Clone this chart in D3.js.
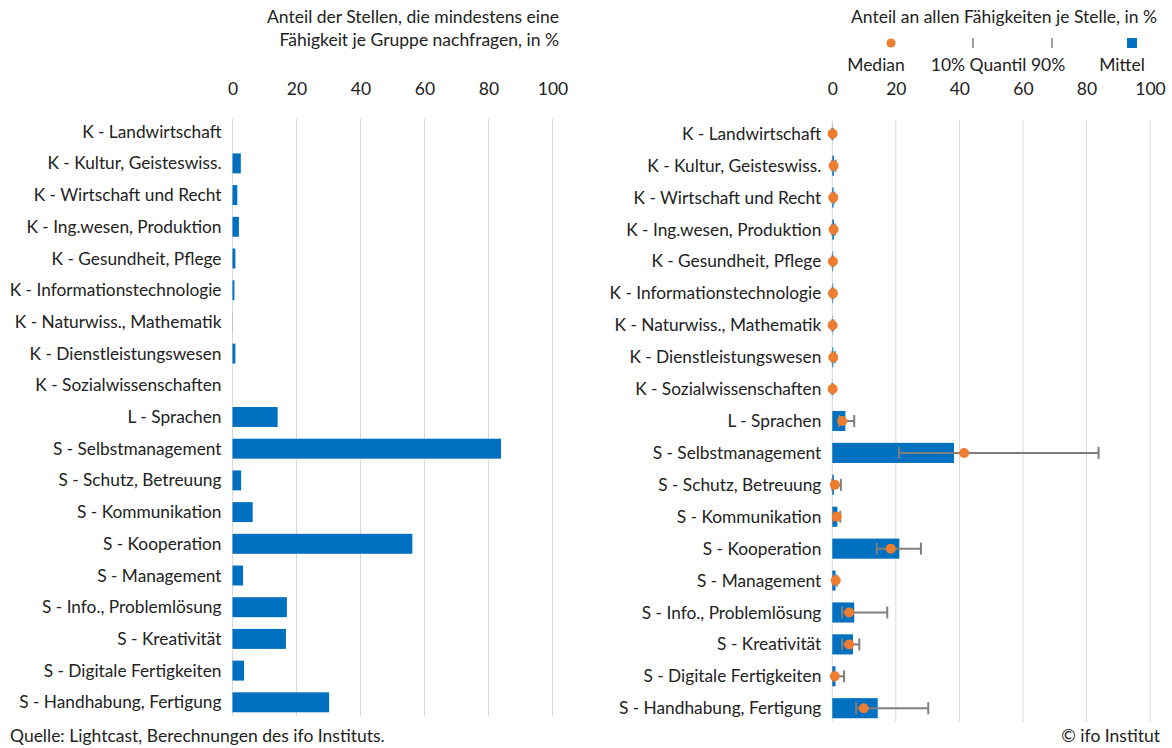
<!DOCTYPE html>
<html>
<head>
<meta charset="utf-8">
<script src="https://cdn.jsdelivr.net/npm/d3@7"></script>
<style>
  body { margin: 0; background: #fff; }
  svg text { font-family: Lato, "Open Sans", sans-serif; fill: #222; }
</style>
</head>
<body>
<div id="chart"></div>
<script>
// categories (top to bottom)
const categories = [
  'K - Landwirtschaft', 'K - Kultur, Geisteswiss.', 'K - Wirtschaft und Recht',
  'K - Ing.wesen, Produktion', 'K - Gesundheit, Pflege', 'K - Informationstechnologie',
  'K - Naturwiss., Mathematik', 'K - Dienstleistungswesen', 'K - Sozialwissenschaften',
  'L - Sprachen', 'S - Selbstmanagement', 'S - Schutz, Betreuung', 'S - Kommunikation',
  'S - Kooperation', 'S - Management', 'S - Info., Problemlösung', 'S - Kreativität',
  'S - Digitale Fertigkeiten', 'S - Handhabung, Fertigung'
];

// left panel: share of postings demanding at least one skill of the group, in %
const shareAtLeastOne = [0, 2.6, 1.5, 2.0, 0.9, 0.6, 0.05, 0.9, 0,
  14.1, 83.9, 2.7, 6.3, 56.2, 3.3, 17.0, 16.7, 3.6, 30.2];

// right panel: share of all skills per posting, in %
const meanShare   = [0.05, 0.5, 0.4, 0.5, 0.2, 0.2, 0.1, 0.3, 0.05,
  4.1, 38.3, 0.5, 1.6, 21.1, 1.0, 6.9, 6.5, 1.0, 14.3];
const medianShare = [0.1, 0.4, 0.3, 0.4, 0.2, 0.2, 0.1, 0.3, 0.1,
  3.1, 41.5, 0.8, 1.4, 18.4, 1.1, 5.3, 5.3, 0.8, 9.9];
const q10Share    = [0, 0, 0, 0, 0, 0, 0, 0, 0,
  2.1, 21.0, 0, 0.2, 14.0, 0.3, 3.1, 3.1, 0.3, 7.5];
const q90Share    = [0.1, 1.0, 0.6, 0.8, 0.3, 0.3, 0.3, 0.8, 0.1,
  6.9, 83.8, 2.7, 2.5, 27.9, 1.4, 17.3, 8.5, 3.7, 30.2];

const xTicks = [0, 20, 40, 60, 80, 100];

const blue = '#0070c0', orange = '#ed7d31', grey = '#7f7f7f', gridCol = '#d9d9d9';
const fs = '17.5px';

const svg = d3.select('#chart').append('svg')
  .attr('width', 1172).attr('height', 748);

const rows = categories.map((c, i) => ({
  cat: c, share: shareAtLeastOne[i], mean: meanShare[i],
  median: medianShare[i], q10: q10Share[i], q90: q90Share[i]
}));

function panel(x0, x1, y0, y1) {
  const x = d3.scaleLinear().domain([0, 100]).range([x0, x1]);
  const y = d3.scaleBand().domain(categories).range([y0, y1]).paddingInner(0.37).paddingOuter(0.18);
  const g = svg.append('g');

  // gridlines
  g.append('g').selectAll('line').data(xTicks).join('line')
    .attr('x1', d => x(d)).attr('x2', d => x(d))
    .attr('y1', y0 + 2).attr('y2', y1 - 2)
    .attr('stroke', gridCol).attr('stroke-width', 1);

  // top axis labels
  const ax = d3.axisTop(x).tickValues(xTicks).tickSize(0).tickPadding(0);
  g.append('g').attr('transform', 'translate(0,95)').call(ax)
    .call(s => s.select('.domain').remove())
    .selectAll('text').style('font-size', fs).attr('fill', '#222');

  // category labels
  g.append('g').selectAll('text').data(categories).join('text')
    .attr('x', x0 - 11).attr('y', d => y(d) + y.bandwidth() / 2)
    .attr('dy', '0.35em').attr('text-anchor', 'end')
    .style('font-size', '17.3px').text(d => d);

  return {x, y, g};
}

// ---- left panel
const L = panel(232.5, 552.5, 116, 718);
L.g.append('g').selectAll('rect').data(rows).join('rect')
  .attr('x', L.x(0))
  .attr('y', d => L.y(d.cat))
  .attr('width', d => L.x(d.share) - L.x(0))
  .attr('height', L.y.bandwidth())
  .attr('fill', blue);

// ---- right panel
const R = panel(832.3, 1150, 118, 724);
R.g.append('g').selectAll('rect').data(rows).join('rect')
  .attr('x', R.x(0))
  .attr('y', d => R.y(d.cat))
  .attr('width', d => R.x(d.mean) - R.x(0))
  .attr('height', R.y.bandwidth())
  .attr('fill', blue);

const err = R.g.append('g').attr('stroke', grey).attr('stroke-width', 2);
err.selectAll('.whisker').data(rows).join('line')
  .attr('x1', d => R.x(d.q10)).attr('x2', d => R.x(d.q90))
  .attr('y1', d => R.y(d.cat) + R.y.bandwidth() / 2)
  .attr('y2', d => R.y(d.cat) + R.y.bandwidth() / 2);
['q10', 'q90'].forEach(k => {
  err.selectAll('.cap-' + k).data(rows).join('line')
    .attr('x1', d => R.x(d[k])).attr('x2', d => R.x(d[k]))
    .attr('y1', d => R.y(d.cat) + R.y.bandwidth() / 2 - 6)
    .attr('y2', d => R.y(d.cat) + R.y.bandwidth() / 2 + 6);
});

R.g.append('g').selectAll('circle').data(rows).join('circle')
  .attr('cx', d => R.x(d.median))
  .attr('cy', d => R.y(d.cat) + R.y.bandwidth() / 2)
  .attr('r', 5)
  .attr('fill', orange);

// ---- titles
const t1 = svg.append('text').attr('x', 559).attr('y', 23).attr('text-anchor', 'end')
  .style('font-size', fs);
t1.append('tspan').attr('x', 559).text('Anteil der Stellen, die mindestens eine');
t1.append('tspan').attr('x', 559).attr('dy', 23).text('Fähigkeit je Gruppe nachfragen, in %');

svg.append('text').attr('x', 1157).attr('y', 23).attr('text-anchor', 'end')
  .style('font-size', fs).text('Anteil an allen Fähigkeiten je Stelle, in %');

// ---- legend
const lg = svg.append('g');
lg.append('circle').attr('cx', 891).attr('cy', 43).attr('r', 4.5).attr('fill', orange);
lg.append('line').attr('x1', 973).attr('x2', 973).attr('y1', 38).attr('y2', 48)
  .attr('stroke', grey).attr('stroke-width', 1.5);
lg.append('line').attr('x1', 1052).attr('x2', 1052).attr('y1', 38).attr('y2', 48)
  .attr('stroke', grey).attr('stroke-width', 1.5);
lg.append('rect').attr('x', 1127).attr('y', 38).attr('width', 10).attr('height', 10).attr('fill', blue);
[['Median', 876], ['10% Quantil 90%', 998], ['Mittel', 1122]].forEach(([t, cx]) => {
  lg.append('text').attr('x', cx).attr('y', 71).attr('text-anchor', 'middle')
    .style('font-size', fs).text(t);
});

// ---- footer
svg.append('text').attr('x', 10).attr('y', 742).style('font-size', fs)
  .text('Quelle: Lightcast, Berechnungen des ifo Instituts.');
svg.append('text').attr('x', 1160).attr('y', 742).attr('text-anchor', 'end')
  .style('font-size', fs).text('© ifo Institut');
</script>
</body>
</html>
